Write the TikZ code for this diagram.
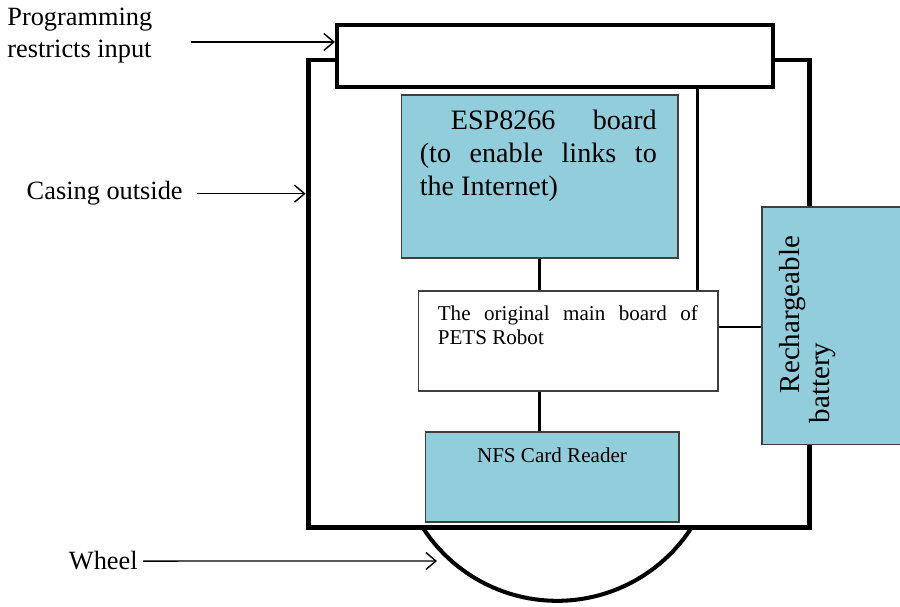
\documentclass[tikz,border=0pt]{standalone}
\usepackage{fontspec}
\setmainfont{Liberation Serif}
\usetikzlibrary{arrows.meta, positioning}
\definecolor{BoardBlue}{HTML}{92CDDC}
\definecolor{EdgeGray}{HTML}{3F3F3F}
\newcommand{\fitline}[2]{\makebox[#1][s]{#2}}

\begin{document}
\begin{tikzpicture}[x=0.02cm, y=-0.02cm,
  casing_box/.style={rectangle, draw=black, line width=2.8pt, inner sep=0pt,
    minimum width=10.04cm, minimum height=9.36cm},
  bar_box/.style={rectangle, draw=black, fill=white, line width=2.4pt, inner sep=0pt},
  blue_box/.style={rectangle, draw=EdgeGray, fill=BoardBlue, line width=0.6pt, inner sep=0pt},
  white_box/.style={rectangle, draw=EdgeGray, fill=white, line width=0.6pt, inner sep=0pt},
  wire/.style={line width=1.7pt},
  pointer/.style={-{Straight Barb[length=2mm, width=3.4mm]}, line width=0.8pt},
  side_label/.style={inner sep=0pt, align=left, font=\fontsize{15}{18}\selectfont},
  big_text/.style={inner sep=0pt, align=left, font=\fontsize{16}{18.7}\selectfont},
  small_text/.style={inner sep=0pt, align=left, font=\fontsize{12}{14}\selectfont}
]
  \useasboundingbox (0,0) rectangle (900,607);

  \node[casing_box] (casing) at (559,294) {};
  \node[bar_box, minimum width=8.72cm, minimum height=1.24cm] (progbar) at (555,56) {};
  \node[blue_box, minimum width=5.54cm, minimum height=3.26cm] (esp) at (539.5,176.5) {};
  \node[white_box, minimum width=6cm, minimum height=2cm] (mainb) at (568,341) {};
  \node[blue_box, minimum width=5.08cm, minimum height=1.8cm] (nfs) at (552,477) {};
  \node[blue_box, minimum width=2.78cm, minimum height=4.76cm] (battery) at (831.5,326) {};

  % box texts
  \node[big_text, below right=0.31cm and 0.38cm of esp.north west] (esptxt)
    {\fitline{4.74cm}{\hspace*{0.62cm}ESP8266 board}\\
     \fitline{4.74cm}{(to enable links to}\\
     the Internet)};
  \node[small_text, below right=0.29cm and 0.4cm of mainb.north west] (maintxt)
    {\fitline{5.2cm}{The original main board of}\\PETS Robot};
  \node[small_text, below=0.32cm of nfs.north] (nfstxt) {NFS Card Reader};
  \node[big_text, rotate=90, anchor=north west, font=\fontsize{16.5}{17}\selectfont] (battxt)
    at ([shift={(18,-22)}]battery.south west) {\hspace*{0.6cm}Rechargeable\\battery};

  % wires
  \draw[wire] (esp.south) -- (esp.south |- mainb.north);
  \draw[wire] (mainb.south -| esp.south) -- (nfs.north -| esp.south);
  \coordinate (tap) at ([xshift=-0.42cm]mainb.north east);
  \draw[wire, line width=1.5pt] (tap) -- (tap |- progbar.south);
  \coordinate (side) at ([yshift=0.28cm]mainb.east);
  \draw[wire] (side) -- (side -| battery.west);

  % wheel
  \coordinate (rim) at (423,528);
  \draw[line width=2.3pt] (rim) arc[start angle=213, end angle=327, radius=3.2cm];

  % outside labels
  \node[side_label, anchor=north west] (proglbl) at (7,8) {Programming\\restricts input};
  \node[side_label, anchor=base east] (caselbl) at (183,200) {Casing outside};
  \node[side_label, anchor=base east] (wheellbl) at (138,570) {Wheel};

  \coordinate (progtip) at ([yshift=0.28cm]progbar.west);
  \draw[pointer] ([xshift=-2.88cm]progtip) -- (progtip);
  \draw[pointer] ([xshift=0.28cm]caselbl.east) -- (caselbl.east -| casing.west);
  \coordinate (wheeltip) at (437,561);
  \draw[pointer] ([xshift=0.1cm]wheellbl.east) -- (wheeltip);

\end{tikzpicture}
\end{document}
